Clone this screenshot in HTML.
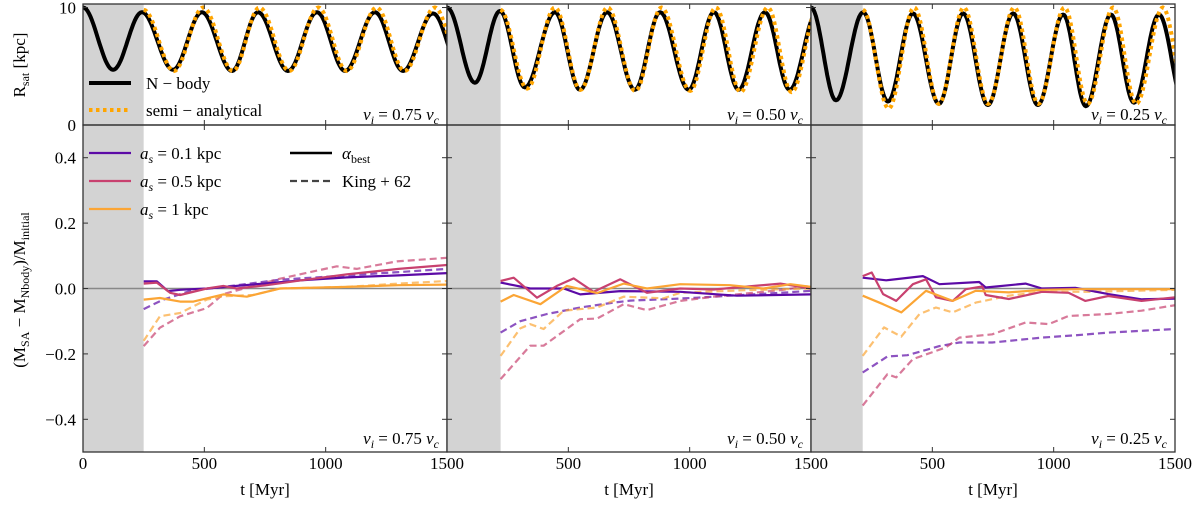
<!DOCTYPE html>
<html><head><meta charset="utf-8">
<style>
html,body{margin:0;padding:0;background:#fff;}
svg{display:block;font-family:"Liberation Serif",serif;}
</style></head>
<body>
<svg id="chart" width="1200" height="511" viewBox="0 0 1200 511" xmlns="http://www.w3.org/2000/svg"></svg>
<script>
// ---------- data ----------
const panelLabels = ["v_i = 0.75 v_c","v_i = 0.50 v_c","v_i = 0.25 v_c"];
const grayEnd = [250, 221, 213];
const xTicks = [0, 500, 1000, 1500];
const topTicks = [0, 10];
const botTicks = [-0.4, -0.2, 0.0, 0.2, 0.4];

// top panels: orbit extrema (time, radius)
const nbT = [[0,124,243,371,490,614,721,845,964,1080,1203,1319,1442,1560],
             [0,115,218,321,445,548,660,774,878,996,1100,1202,1310,1412,1525],
             [0,103,215,317,420,527,627,729,833,935,1039,1133,1236,1331,1434,1540]];
const nbR = [[10,4.7,9.6,4.7,9.6,4.6,9.6,4.6,9.6,4.6,9.6,4.6,9.5,4.6],
             [10,3.6,9.7,3.2,9.6,3.0,9.6,3.0,9.6,3.0,9.6,3.0,9.6,3.0,9.6],
             [10,2.1,9.6,2.0,9.5,1.8,9.5,1.7,9.5,1.7,9.4,1.6,9.4,1.9,9.4,1.6]];
const saT = [[250,375,495,618,727,850,970,1087,1210,1325,1450,1565],
             [220,330,445,550,662,776,884,1002,1108,1210,1322,1420,1530],
             [214,320,425,527,630,730,838,937,1045,1140,1245,1340,1450,1550]];
const saR = [[9.8,4.6,10,4.6,10,4.6,10,4.6,10,4.6,10,4.6],
             [9.8,3.1,10,3.0,10,2.9,10,2.9,10,2.8,10,2.8,10],
             [9.8,1.4,10,1.8,10,1.8,10,1.8,10,1.8,10,1.8,10,1.8]];

// bottom panels: mass difference series [panel][series]
// order: a0.1 solid, a0.5 solid, a1 solid, a0.1 dashed, a0.5 dashed, a1 dashed
const mT = [
 [[250,304,350,400,450,510,578,633,757,900,1087,1300,1500],
  [250,304,359,400,510,578,633,757,900,1087,1300,1500],
  [250,317,400,455,578,675,812,1087,1300,1500],
  [250,331,441,578,812,1087,1300,1500],
  [250,317,400,510,578,812,1046,1128,1293,1500],
  [250,317,400,510,578,700,812,1087,1300,1500]],
 [[221,275,343,481,549,714,961,1195,1500],
  [221,275,371,453,522,604,714,824,961,1099,1374,1500],
  [221,275,385,494,618,728,824,961,1167,1305,1415,1500],
  [221,302,412,549,687,755,893,1030,1167,1374,1500],
  [221,343,398,549,618,728,824,961,1099,1374,1500],
  [221,302,343,398,481,618,728,893,961,1236,1500]],
 [[213,310,461,529,693,720,884,952,1089,1225,1362,1500],
  [213,250,297,351,420,474,515,584,638,706,720,815,952,1061,1130,1225,1362,1500],
  [213,297,372,474,584,679,815,952,1089,1362,1500],
  [213,315,397,529,611,747,952,1089,1225,1500],
  [213,315,351,420,556,611,747,884,980,1061,1225,1362,1500],
  [213,301,372,447,515,584,679,815,952,1157,1500]]
];
const mV = [
 [[0.022,0.022,-0.008,-0.004,-0.002,0.0,0.004,0.008,0.016,0.025,0.034,0.04,0.047],
  [0.015,0.018,-0.013,-0.02,0.0,0.008,0.0,0.01,0.025,0.043,0.06,0.072],
  [-0.034,-0.029,-0.04,-0.04,-0.018,-0.025,0.0,0.005,0.01,0.012],
  [-0.063,-0.034,-0.008,0.005,0.027,0.04,0.05,0.06],
  [-0.176,-0.12,-0.085,-0.06,-0.017,0.03,0.068,0.06,0.083,0.094],
  [-0.16,-0.085,-0.075,-0.034,-0.024,-0.02,0.0,0.005,0.015,0.023]],
 [[0.018,0.01,0.0,0.0,-0.018,-0.008,-0.01,-0.022,-0.018],
  [0.023,0.033,-0.028,0.008,0.031,-0.01,0.028,-0.013,0.0,-0.003,0.015,0.0],
  [-0.04,-0.02,-0.048,0.008,-0.014,0.015,0.0,0.013,0.01,0.0,0.013,0.005],
  [-0.135,-0.1,-0.078,-0.058,-0.043,-0.037,-0.033,-0.028,-0.022,-0.013,-0.007],
  [-0.277,-0.175,-0.175,-0.094,-0.092,-0.048,-0.066,-0.038,-0.025,-0.005,0.008],
  [-0.206,-0.122,-0.109,-0.124,-0.068,-0.058,-0.025,-0.03,-0.013,-0.005,0.0]],
 [[0.033,0.025,0.038,0.013,0.02,0.003,0.015,0.0,0.002,-0.017,-0.033,-0.031],
  [0.038,0.049,-0.017,-0.038,0.013,0.028,-0.027,-0.038,-0.002,0.006,-0.02,-0.032,-0.01,-0.013,-0.038,-0.023,-0.038,-0.027],
  [-0.022,-0.048,-0.073,-0.007,-0.038,-0.007,-0.012,-0.004,-0.002,-0.002,-0.002],
  [-0.257,-0.208,-0.204,-0.176,-0.165,-0.165,-0.15,-0.143,-0.135,-0.124],
  [-0.358,-0.262,-0.272,-0.216,-0.18,-0.15,-0.14,-0.104,-0.109,-0.084,-0.078,-0.068,-0.051],
  [-0.206,-0.119,-0.147,-0.078,-0.058,-0.073,-0.043,-0.022,-0.01,-0.01,-0.004]]
];
const seriesColor = ["#5c0aa6","#c8416f","#fba535","#5c0aa6","#c8416f","#fba535"];
const seriesDash = [false,false,false,true,true,true];
const seriesNames = ["as-0.1-kpc","as-0.5-kpc","as-1-kpc","as-0.1-kpc-king","as-0.5-kpc-king","as-1-kpc-king"];

// ---------- layout ----------
const NS="http://www.w3.org/2000/svg";
const svg=document.getElementById('chart');
const PX=[83,447,811], PW=364, TOP0=4, TOP1=125, BOT1=452;
function xS(p,t){return PX[p]+t/1500*PW;}
function yTop(r){return TOP1 - r/10.3*(TOP1-TOP0);}
function yBot(v){return (TOP1+BOT1)/2 - v*(BOT1-TOP1);}
function mk(tag,attrs,parent){const e=document.createElementNS(NS,tag);for(const k in attrs)e.setAttribute(k,attrs[k]);(parent||svg).appendChild(e);return e;}
function txt(x,y,s,anchor,size,parent){const e=mk('text',{x:x,y:y,'text-anchor':anchor||'middle','font-size':size||17,fill:'#000'},parent);e.textContent=s;return e;}

// clip paths
const defs=mk('defs',{});
for(let p=0;p<3;p++){
  const c1=mk('clipPath',{id:'ct'+p},defs);mk('rect',{x:PX[p],y:TOP0,width:PW,height:TOP1-TOP0},c1);
  const c2=mk('clipPath',{id:'cb'+p},defs);mk('rect',{x:PX[p],y:TOP1,width:PW,height:BOT1-TOP1},c2);
}

function orbitPath(p,T,R){
  let d='';
  for(let i=0;i<T.length-1;i++){
    const n=20;
    for(let k=0;k<=n;k++){
      if(i>0&&k===0)continue;
      const f=k/n, t=T[i]+(T[i+1]-T[i])*f;
      const r=R[i]+(R[i+1]-R[i])*(1-Math.cos(Math.PI*f))/2;
      d+=(d?'L':'M')+xS(p,t).toFixed(1)+','+yTop(r).toFixed(1);
    }
  }
  return d;
}

for(let p=0;p<3;p++){
  const g=mk('g',{});
  
  
  // gray region
  const gt=mk('rect',{x:PX[p],y:TOP0,width:xS(p,grayEnd[p])-PX[p],height:TOP1-TOP0,fill:'#d3d3d3'},g);
  
  
  const gb=mk('rect',{x:PX[p],y:TOP1,width:xS(p,grayEnd[p])-PX[p],height:BOT1-TOP1,fill:'#d3d3d3'},g);
  
  
  // zero line
  const z=mk('line',{x1:PX[p],x2:PX[p]+PW,y1:yBot(0),y2:yBot(0),stroke:'#888',"stroke-width":1.5},g);
  
  
  // orbits
  const nb=mk('path',{d:orbitPath(p,nbT[p],nbR[p]),fill:'none',stroke:'#000','stroke-width':4,'clip-path':'url(#ct'+p+')','stroke-linejoin':'round'},g);
  
  
  const sa=mk('path',{d:orbitPath(p,saT[p],saR[p]),fill:'none',stroke:'#ffa500','stroke-width':4,'stroke-dasharray':'3.5,3.5','clip-path':'url(#ct'+p+')'},g);
  
  
  // mass series (dashed first, behind)
  for(const s of [3,4,5,0,1,2]){
    const d=mT[p][s].map((t,i)=>(i?'L':'M')+xS(p,t).toFixed(1)+','+yBot(mV[p][s][i]).toFixed(1)).join('');
    const a={d:d,fill:'none',stroke:seriesColor[s],'stroke-width':2.2,'clip-path':'url(#cb'+p+')','stroke-linejoin':'round'};
    if(seriesDash[s]){a['stroke-dasharray']='7,4';a['stroke-opacity']=0.7;}
    const pe=mk('path',a,g);
    
    
  }
  // frames
  mk('rect',{x:PX[p],y:TOP0,width:PW,height:TOP1-TOP0,fill:'none',stroke:'#333','stroke-width':1.3},g);
  mk('rect',{x:PX[p],y:TOP1,width:PW,height:BOT1-TOP1,fill:'none',stroke:'#333','stroke-width':1.3},g);
  // ticks
  for(const t of xTicks){
    const x=xS(p,t);
    mk('line',{x1:x,x2:x,y1:BOT1,y2:BOT1-5,stroke:'#333'},g);
    mk('line',{x1:x,x2:x,y1:TOP1,y2:TOP1+5,stroke:'#333'},g);
    mk('line',{x1:x,x2:x,y1:TOP1,y2:TOP1-5,stroke:'#333'},g);
    mk('line',{x1:x,x2:x,y1:TOP0,y2:TOP0+5,stroke:'#333'},g);
    if(p===0||t>0){const l=txt(x,469,String(t),'middle',17,g);}
  }
  for(const v of botTicks){
    const y=yBot(v);
    mk('line',{x1:PX[p],x2:PX[p]+5,y1:y,y2:y,stroke:'#333'},g);
    mk('line',{x1:PX[p]+PW,x2:PX[p]+PW-5,y1:y,y2:y,stroke:'#333'},g);
  }
  for(const v of topTicks){
    const y=yTop(v);
    mk('line',{x1:PX[p],x2:PX[p]+5,y1:y,y2:y,stroke:'#333'},g);
    mk('line',{x1:PX[p]+PW,x2:PX[p]+PW-5,y1:y,y2:y,stroke:'#333'},g);
  }
  // panel labels
  const lab=panelLabels[p].split(' = ')[1];
  for(const y of [120,444]){
    const tt=mk('text',{x:PX[p]+PW-8,y:y,'text-anchor':'end','font-size':17,'font-style':'italic'},g);
    
    
    tt.innerHTML='v<tspan font-size="12" dy="4">i</tspan><tspan dy="-4" font-style="normal"> = '+lab.split(' ')[0]+' </tspan>v<tspan font-size="12" dy="4">c</tspan>';
  }
  const xl=mk('text',{x:PX[p]+PW/2,y:495,'text-anchor':'middle','font-size':17},g);
  xl.textContent='t [Myr]';
  
  
}

// y tick labels
for(const v of topTicks){const l=txt(76,yTop(v)+6,String(v),'end',17);}
for(const v of botTicks){const l=txt(76,yBot(v)+6,(v<0?'\u2212':'')+Math.abs(v).toFixed(1),'end',17);}
// y axis titles
const yt=mk('text',{transform:'translate(25,65) rotate(-90)','text-anchor':'middle','font-size':17});
yt.innerHTML='R<tspan font-size="12" dy="4">sat</tspan><tspan dy="-4"> [kpc]</tspan>';


const yb=mk('text',{transform:'translate(25,290) rotate(-90)','text-anchor':'middle','font-size':17});
yb.innerHTML='(M<tspan font-size="12" dy="4">SA</tspan><tspan dy="-4"> \u2212 M</tspan><tspan font-size="12" dy="4">Nbody</tspan><tspan dy="-4">)/M</tspan><tspan font-size="12" dy="4">initial</tspan>';



// legends
const lg1=mk('g',{});


mk('line',{x1:89,x2:131,y1:83,y2:83,stroke:'#000','stroke-width':4},lg1);
txt(146,89,'N \u2212 body','start',17,lg1);
mk('line',{x1:89,x2:131,y1:110,y2:110,stroke:'#ffa500','stroke-width':4,'stroke-dasharray':'3.5,3.5'},lg1);
txt(146,116,'semi \u2212 analytical','start',17,lg1);

const lg2=mk('g',{});


const aL=['0.1 kpc','0.5 kpc','1 kpc'];
for(let i=0;i<3;i++){
  const y=153+i*28;
  mk('line',{x1:89,x2:131,y1:y,y2:y,stroke:seriesColor[i],'stroke-width':2.2},lg2);
  const t=mk('text',{x:140,y:y+6,'font-size':17,'font-style':'italic'},lg2);
  t.innerHTML='a<tspan font-size="12" dy="4">s</tspan><tspan dy="-4" font-style="normal"> = '+aL[i]+'</tspan>';
}
mk('line',{x1:290,x2:332,y1:153,y2:153,stroke:'#000','stroke-width':2.5},lg2);
const ab=mk('text',{x:342,y:159,'font-size':17,'font-style':'italic'},lg2);
ab.innerHTML='\u03b1<tspan font-size="12" dy="4" font-style="normal">best</tspan>';
mk('line',{x1:290,x2:332,y1:181,y2:181,stroke:'#444','stroke-width':2.2,'stroke-dasharray':'7,4'},lg2);
txt(342,187,'King + 62','start',17,lg2);
</script>
</body></html>
